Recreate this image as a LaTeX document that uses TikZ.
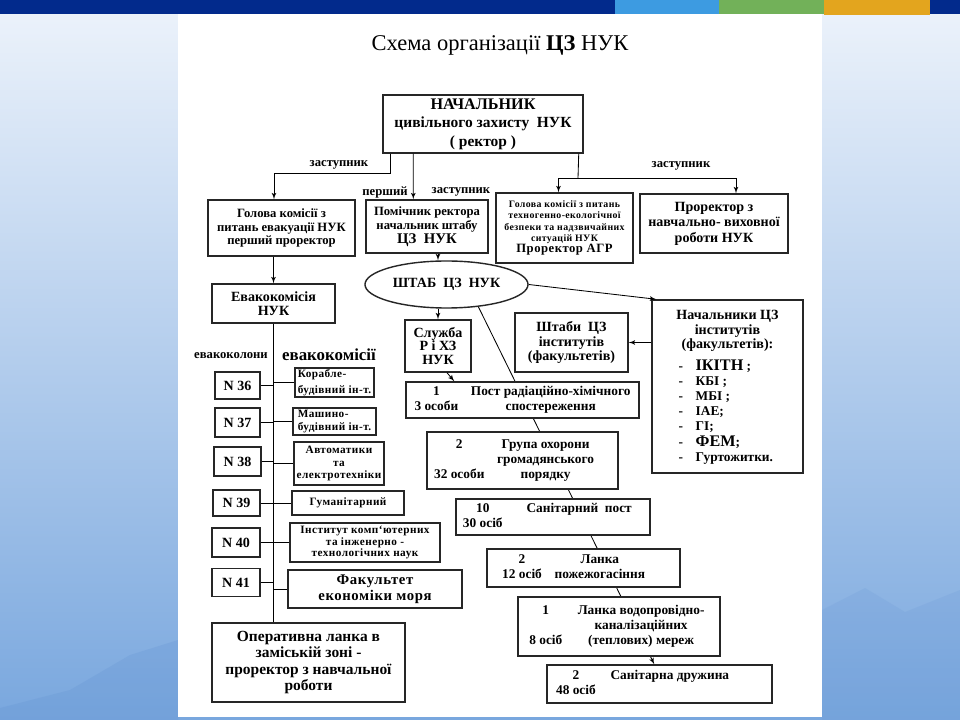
\documentclass[tikz,border=0pt]{standalone}
\usepackage{fontspec}
\setmainfont{Liberation Serif}
\usetikzlibrary{arrows, shapes.geometric, calc}

\definecolor{barblue}{HTML}{022A8C}
\definecolor{segblue}{HTML}{3D9BE1}
\definecolor{seggreen}{HTML}{72B159}
\definecolor{segorange}{HTML}{E3A51E}
\definecolor{skytop}{HTML}{EDF3FB}
\definecolor{skymid}{HTML}{B0CDF0}
\definecolor{skybot}{HTML}{79A7DE}
\definecolor{hill}{HTML}{5F8FCF}

\newcommand{\fsz}[2]{\fontsize{#1}{#2}\selectfont}
\pgfdeclarelayer{slide}
\pgfdeclarelayer{under}
\pgfsetlayers{slide,under,main}

\begin{document}
\begin{tikzpicture}[x=0.025cm, y=-0.025cm]

\tikzset{box/.style = {draw=black!85, line width=1pt, fill=white, inner sep=1pt, align=center, font=\bfseries\fsz{9.5}{10.6}}}
\tikzset{small/.style = {font=\bfseries\fsz{8}{#1}\addfontfeature{LetterSpace=4}}, small/.default=9}
\tikzset{lbl/.style = {inner sep=0pt, font=\bfseries\fsz{9}{10}}}
\tikzset{link/.style = {line width=0.6pt}}
\tikzset{edge/.style = {->, >=latex', line width=0.6pt}}
\useasboundingbox (0,0) rectangle (960,720);

%slide
\begin{pgfonlayer}{slide}
\shade[top color=skytop, middle color=skymid, bottom color=skybot] (0,0) rectangle (960,720);
\fill[hill, opacity=0.22] (0,720) -- (0,708) -- (70,690) -- (130,655) -- (178,640) -- (178,720) -- cycle;
\fill[hill, opacity=0.15] (822,610) -- (865,588) -- (905,612) -- (960,590) -- (960,720) -- (822,720) -- cycle;
\fill[barblue] (0,0) rectangle (960,14);
\fill[segblue] (615,0) rectangle (719,14);
\fill[seggreen] (719,0) rectangle (824,14);
\fill[segorange] (824,0) rectangle (930,15);
\fill[white] (178,14) rectangle (822,717);
\end{pgfonlayer}

\node[inner sep=0pt, font=\fsz{16}{18}] (title) at (500,45) {Схема організації \textbf{ЦЗ} НУК};

%top
\node[box, minimum width=5cm, minimum height=1.45cm, font=\bfseries\fsz{11}{13.2}] (head) at (483,124) {{\fsz{11.5}{13.2}НАЧАЛЬНИК}\\цивільного захисту~ НУК\\( ректор )};
\node[box, minimum width=3.675cm, minimum height=1.4cm, font=\bfseries\fsz{9}{9.8}] (ev) at (281.5,228) {Голова комісії з\\питань евакуації НУК\\перший проректор};
\node[box, minimum width=3.05cm, minimum height=1.325cm, font=\bfseries\fsz{9}{9.8}] (pom) at (427,226.5) {Помічник ректора\\начальник штабу\\{\fsz{10.5}{9.8}ЦЗ~ НУК}};
\node[box, minimum width=3.425cm, minimum height=1.75cm, font=\bfseries\fsz{7}{7.9}\addfontfeature{LetterSpace=4}] (agr) at (564.5,228) {Голова комісії з питань\\техногенно-екологічної\\безпеки та надзвичайних\\ситуацій НУК\\{\fsz{9}{10}Проректор АГР}};
\node[box, minimum width=3.7cm, minimum height=1.475cm, font=\bfseries\fsz{10}{11}] (npr) at (714,223.5) {Проректор з\\навчально- виховної\\роботи НУК};

\node[lbl] (zleft) at (339,165) {заступник};
\node[lbl] (zright) at (681,166) {заступник};
\node[lbl] (pfirst) at (385,192) {перший};
\node[lbl] (pdep) at (461,192) {заступник};

\coordinate (hr) at (578,178);
\draw[edge] ($(head.south west)+(8,0)$) -- ++(0,20) -| (ev.north -| 274,0);
\draw[edge] ($(head.south west)+(31,0)$) -- ($(pom.north west)+(48,0)$);
\draw[link] ($(head.south east)+(-5,0)$) -- (hr);
\draw[edge] (hr) -| ($(agr.north)+(-6,0)$);
\draw[edge] (hr) -| ($(npr.north)+(22,0)$);

%shtab
\node[box, ellipse, minimum width=4.075cm, minimum height=1.175cm, font=\bfseries\fsz{10}{11}] (shtab) at (446.5,284.5) {ШТАБ~ ЦЗ~ НУК};
\node[box, minimum width=1.65cm, minimum height=1.3cm, font=\bfseries\fsz{10}{9.8}] (sl) at (438,346) {Служба\\Р і ХЗ\\НУК};
\node[box, minimum width=2.825cm, minimum height=1.475cm, font=\bfseries\fsz{10}{10.4}] (sht) at (571.5,342.5) {Штаби~ ЦЗ\\інститутів\\(факультетів)};
\node[box, minimum width=3.775cm, minimum height=4.325cm] (nach) at (727.5,386.5) {};
\node[lbl, font=\bfseries\fsz{10}{10.2}, align=center, anchor=north] (nachtop) at ($(nach.north)+(0,11)$) {Начальники ЦЗ\\інститутів\\(факультетів):};
\node[lbl, font=\bfseries\fsz{9.5}{10.8}, align=left, anchor=north west] (nachlist) at ($(nach.north west)+(27,60)$) {-\hspace{9pt}{\fsz{11.5}{10.8}ІКІТН} ;\\-\hspace{9pt}КБІ ;\\-\hspace{9pt}МБІ ;\\-\hspace{9pt}ІАЕ;\\-\hspace{9pt}ГІ;\\-\hspace{9pt}{\fsz{11.5}{10.8}ФЕМ};\\-\hspace{9pt}Гуртожитки.};

\draw[edge] (pom.south -| sl.north) -- (sl.north |- shtab.north);
\draw[edge] (sl.north |- shtab.south) -- (sl.north);
\draw[edge] (shtab.east) -- ($(nach.north west)+(5,0)$);
\draw[edge] (nach.west |- sht.east) -- (sht.east);

%stairs
\node[box, minimum width=5.825cm, minimum height=0.9cm] (post) at (522.5,400) {\begin{tabular}{@{}c@{\hspace{9pt}}c@{}}1 & Пост радіаційно-хімічного\\3 особи & спостереження\end{tabular}};
\node[box, minimum width=4.775cm, minimum height=1.425cm] (grupa) at (522.5,460.5) {\begin{tabular}{@{}c@{\hspace{9pt}}c@{\hspace{12pt}}}2 & Група охорони\\ & громадянського\\32 особи & порядку\end{tabular}};
\node[box, minimum width=4.85cm, minimum height=0.9cm] (san) at (553,517) {\begin{tabular}{@{}c@{\hspace{17pt}}c@{\hspace{8pt}}}10 & Санітарний~ пост\\30 осіб & \end{tabular}};
\node[box, minimum width=4.825cm, minimum height=0.95cm] (lanka) at (583.5,568) {\begin{tabular}{@{}c@{\hspace{9pt}}c@{\hspace{14pt}}}2 & Ланка\\12 осіб & пожежогасіння\end{tabular}};
\node[box, minimum width=5.05cm, minimum height=1.475cm] (vod) at (619,626.5) {\begin{tabular}{@{}c@{\hspace{11pt}}c@{\hspace{3pt}}}1 & Ланка водопровідно-\\ & каналізаційних\\8 осіб & (теплових) мереж\end{tabular}};
\node[box, minimum width=5.625cm, minimum height=0.95cm] (dru) at (659.5,684) {\begin{tabular}{@{}c@{\hspace{10.5pt}}c@{\hspace{24pt}}}2 & Санітарна дружина\\48 осіб & \end{tabular}};

\begin{pgfonlayer}{under}
\draw[edge] (shtab.-35) -- ($(dru.north west)+(108,0)$);
\end{pgfonlayer}
\draw[edge] ($(sl.south)+(9,0)$) -- ($(post.north west)+(49,0)$);

%left column
\node[box, minimum width=3.075cm, minimum height=0.975cm, font=\bfseries\fsz{10}{10}] (evk) at (273.5,303.5) {Евакокомісія\\НУК};
\draw[edge] (evk.north |- ev.south) -- (evk.north);

\node[lbl] (kolony) at (231,356) {евакоколони};
\node[lbl, font=\bfseries\fsz{12}{13}] (komisii) at (329,355) {евакокомісії};

\node[box, minimum width=1.125cm, minimum height=0.675cm, font=\bfseries\fsz{10}{11}] (n36) at (237.5,385.5) {N 36};
\node[box, minimum width=1.125cm, minimum height=0.725cm, font=\bfseries\fsz{10}{11}] (n37) at (237.5,422.5) {N 37};
\node[box, minimum width=1.175cm, minimum height=0.725cm, font=\bfseries\fsz{10}{11}] (n38) at (237.5,461.5) {N 38};
\node[box, minimum width=1.175cm, minimum height=0.65cm, font=\bfseries\fsz{10}{11}] (n39) at (236.5,503) {N 39};
\node[box, minimum width=1.2cm, minimum height=0.725cm, font=\bfseries\fsz{10}{11}] (n40) at (236,542.5) {N 40};
\node[box, minimum width=1.2cm, minimum height=0.7cm, font=\bfseries\fsz{10}{11}] (n41) at (236,582.5) {N 41};

\node[box, small=11, align=left, minimum width=1.975cm, minimum height=0.725cm] (k1) at (334.5,382.5) {Корабле-\\будівний ін-т.};
\node[box, small=9.8, align=left, minimum width=2.075cm, minimum height=0.675cm] (k2) at (334.5,421.5) {Машино-\\будівний ін-т.};
\node[box, small=8.8, minimum width=2.25cm, minimum height=1.075cm] (k3) at (339,463.5) {Автоматики\\та\\електротехніки};
\node[box, small, minimum width=2.8cm, minimum height=0.6cm] (k4) at (348,503) {Гуманітарний};
\node[box, small=8, minimum width=3.75cm, minimum height=0.975cm] (k5) at (365,542.5) {Інститут комп`ютерних\\та інженерно -\\технологічних наук};
\node[box, minimum width=4.35cm, minimum height=0.95cm, font=\bfseries\fsz{10.5}{11.4}\addfontfeature{LetterSpace=4}] (k6) at (375,589) {Факультет\\економіки моря};

\node[box, minimum width=4.825cm, minimum height=1.975cm, font=\bfseries\fsz{11}{11.8}] (oper) at (308.5,662.5) {Оперативна ланка в\\заміській зоні -\\проректор з навчальної\\роботи};

\draw[link] (evk.south) -- (evk.south |- oper.north);
\foreach \n in {n36,n37,n38,n39,n40,n41}
  \draw[link] (\n.east) -- (\n.east -| evk.south);
\foreach \k in {k1,k2,k3,k4,k5,k6}
  \draw[link] (evk.south |- \k.west) -- (\k.west);

\end{tikzpicture}
\end{document}
